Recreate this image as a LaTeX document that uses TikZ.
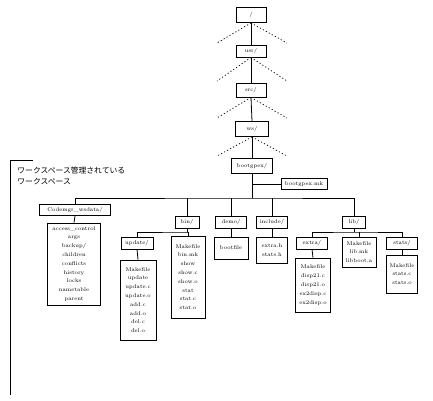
\documentclass[tikz,border=0pt]{standalone}
\usepackage{fontspec}
\newfontfamily\jpfont{Noto Sans CJK JP}
\begin{document}
\begin{tikzpicture}[x=1pt,y=-1pt,line width=0.8pt,
  bx/.style={draw,inner sep=0pt,align=center,font=\fontsize{5.5}{8.8}\selectfont},
  dots/.style={dash pattern=on 1.2pt off 2.2pt,line width=0.7pt},
  ln/.style={line width=0.8pt}]
\useasboundingbox (0,0) rectangle (433,400);
% main chain
\node[bx,minimum width=30pt,minimum height=15pt] (root) at (251,15) {/};
\node[bx,minimum width=30pt,minimum height=12pt] (usr) at (251,51) {usr/};
\node[bx,minimum width=30pt,minimum height=14pt] (src) at (251,90) {src/};
\node[bx,minimum width=33pt,minimum height=15pt] (ws) at (252,129) {ws/};
\node[bx,minimum width=41pt,minimum height=15pt] (bg) at (252,166) {bootgpex/};
\node[bx,minimum width=46pt,minimum height=11pt] (mk) at (304,184) {bootgpex.mk};
\draw[ln] (root.south) -- (usr.north);
\draw[ln] (usr.south) -- (src.north);
\draw[ln] (src.south) -- (ws.north);
\draw[ln] (ws.south) -- (bg.north);
% dotted fans
\foreach \n/\y in {root/43,usr/81,src/118,ws/156}{
  \coordinate (\n-l) at (217,\y);
  \coordinate (\n-r) at (287,\y);
  \draw[dots] (\n.south) -- (\n-l);
  \draw[dots] (\n.south) -- (\n-r);
}
% second level
\coordinate (hub) at (252,198);
\coordinate (mkj) at (252,184);
\draw[ln] (bg.south) -- (hub);
\draw[ln] (mkj) -- (mk.west);
\node[bx,minimum width=71pt,minimum height=11pt] (cw) at (75,210) {Codemgr\_wsdata/};
\node[bx,minimum width=24pt,minimum height=12pt] (bin) at (187,222) {bin/};
\node[bx,minimum width=31pt,minimum height=12pt] (demo) at (231,222) {demo/};
\node[bx,minimum width=31pt,minimum height=12pt] (inc) at (272,222) {include/};
\node[bx,minimum width=23pt,minimum height=12pt] (lib) at (354,222) {lib/};
\draw[ln] (cw.north) |- (hub) -| (lib.north);
\draw[ln] (bin.north) -- (bin.north |- hub);
\draw[ln] (demo.north) -- (demo.north |- hub);
\draw[ln] (inc.north) -- (inc.north |- hub);
% Codemgr contents
\node[bx,minimum width=53pt,minimum height=82pt] (cwc) at (74,264)
  {access\_control\\args\\backup/\\children\\conflicts\\history\\locks\\nametable\\parent};
\draw[ln] (cw.south) -- (cwc.north);
% bin
\node[bx,minimum width=32pt,minimum height=12pt] (upd) at (137,243) {update/};
\node[bx,minimum width=34pt,minimum height=82pt] (binf) at (188,277)
  {Makefile\\bin.mk\\show\\show.c\\show.o\\stat\\stat.c\\stat.o};
\coordinate (binj) at (187,232);
\draw[ln] (bin.south) -- (binj);
\draw[ln] (upd.north) |- (binj) -| (binf.north);
\node[bx,minimum width=36pt,minimum height=80pt] (updc) at (138,300)
  {Makefile\\update\\update.c\\update.o\\add.c\\add.o\\del.c\\del.o};
\draw[ln] (upd.south) -- (updc.north);
% demo, include
\node[bx,minimum width=34pt,minimum height=22pt] (democ) at (231,248) {bootfile};
\draw[ln] (demo.south) -- (democ.north);
\node[bx,minimum width=31pt,minimum height=26pt] (incc) at (272,250) {extra.h\\stats.h};
\draw[ln] (inc.south) -- (incc.north);
% lib
\node[bx,minimum width=31pt,minimum height=12pt] (ext) at (312,243) {extra/};
\node[bx,minimum width=34pt,minimum height=30pt] (libf) at (359,252) {Makefile\\lib.mk\\libboot.a};
\node[bx,minimum width=31pt,minimum height=12pt] (sts) at (402,243) {stats/};
\coordinate (libj) at (354,232);
\draw[ln] (lib.south) -- (libj);
\draw[ln] (ext.north) |- (libj) -| (sts.north);
\draw[ln] (libf.north) -- (libf.north |- libj);
\node[bx,minimum width=35pt,minimum height=54pt] (extc) at (313,285)
  {Makefile\\disp21.c\\disp21.o\\ex2disp.c\\ex2disp.o};
\draw[ln] (ext.south) -- (extc.north);
\node[bx,minimum width=31pt,minimum height=38pt] (stsc) at (402,274) {Makefile\\stats.c\\stats.o};
\draw[ln] (sts.south) -- (stsc.north);
% bracket
\coordinate (bt) at (33,160);
\coordinate (bc) at (10,160);
\coordinate (bb) at (10,395);
\draw[ln] (bt) -- (bc) -- (bb);
\node[anchor=north west,inner sep=0pt,align=left,font=\jpfont\fontsize{7.8}{11}\selectfont] (lbl) at (17,167)
  {ワークスペース管理されている\\ワークスペース};
\end{tikzpicture}
\end{document}
